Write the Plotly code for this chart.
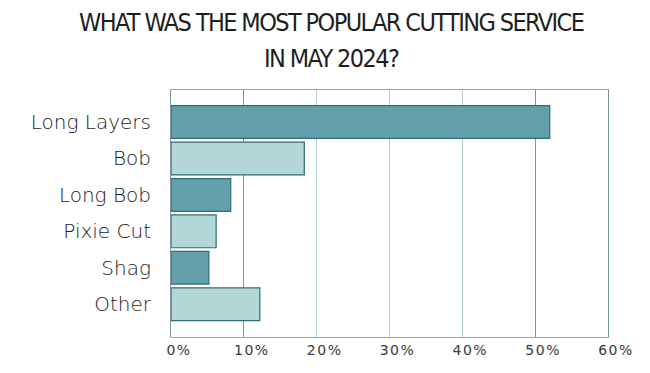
import plotly.graph_objects as go

categories = ["Long Layers", "Bob", "Long Bob", "Pixie Cut", "Shag", "Other"]
values = [52, 18.3, 8.2, 6.2, 5.2, 12.2]
tick_vals = [0, 10, 20, 30, 40, 50, 60]
tick_text = ["0%", "10%", "20%", "30%", "40%", "50%", "60%"]
dark_grid_vals = [10, 50]
title_lines = ["WHAT WAS THE MOST POPULAR CUTTING SERVICE", "IN MAY 2024?"]

dark = "#62a1ab"
light = "#b3d6d7"
colors = [dark if i % 2 == 0 else light for i in range(len(categories))]

fig = go.Figure(go.Bar(
    x=values, y=categories, orientation="h",
    marker=dict(color=colors, line=dict(color="#2f6d74", width=1.2)),
    hoverinfo="skip",
))
# invisible trace on the overlay axis so its darker gridlines are drawn
fig.add_trace(go.Scatter(x=[0], y=[categories[0]], xaxis="x2", mode="markers",
                         marker=dict(opacity=0), hoverinfo="skip", showlegend=False))

spaced_ticks = ['<span style="letter-spacing:1.5px">' + t + '</span>' for t in tick_text]

# the page body adds an 8px offset; compensate in margins
off = 8
fig.update_layout(
    width=650, height=373,
    margin=dict(l=171 - off, r=42 + off, t=90 - off, b=36 + off),
    paper_bgcolor="white", plot_bgcolor="white",
    bargap=0.1,
    showlegend=False,
    xaxis=dict(range=[0, 60], tickvals=tick_vals, ticktext=spaced_ticks,
               showgrid=True, gridcolor="#b4ccd0", gridwidth=1,
               showline=True, linecolor="#8fb0b4", linewidth=1, mirror=True,
               zeroline=False, ticks="", ticklabelshift=8,
               tickfont=dict(family="DejaVu Sans", size=14, color="#3a3a3a")),
    xaxis2=dict(overlaying="x", range=[0, 60], tickvals=dark_grid_vals, showticklabels=False,
                showgrid=True, gridcolor="#7d9497", gridwidth=1, zeroline=False,
                showline=False, ticks="", side="bottom"),
    yaxis=dict(type="category", range=[5.9, -0.88],
               showline=True, linecolor="#7d9497", linewidth=1, mirror=True,
               showgrid=False, ticks="", ticklabelstandoff=15,
               tickfont=dict(family="DejaVu Sans", size=20, color="#1a1a1a", weight=200)),
)
title_font = dict(family="Liberation Sans Narrow, DejaVu Sans Condensed", size=25, color="#1e1e1e")
for i, line in enumerate(title_lines):
    fig.add_annotation(text='<span style="letter-spacing:-1.6px">' + line + '</span>',
                       xref="paper", yref="paper", x=(331 - 171) / 437, xanchor="center",
                       y=1 + (90 - 22 - 36 * i) / 247, yanchor="middle", showarrow=False,
                       font=title_font)

fig.write_html("out.html")
